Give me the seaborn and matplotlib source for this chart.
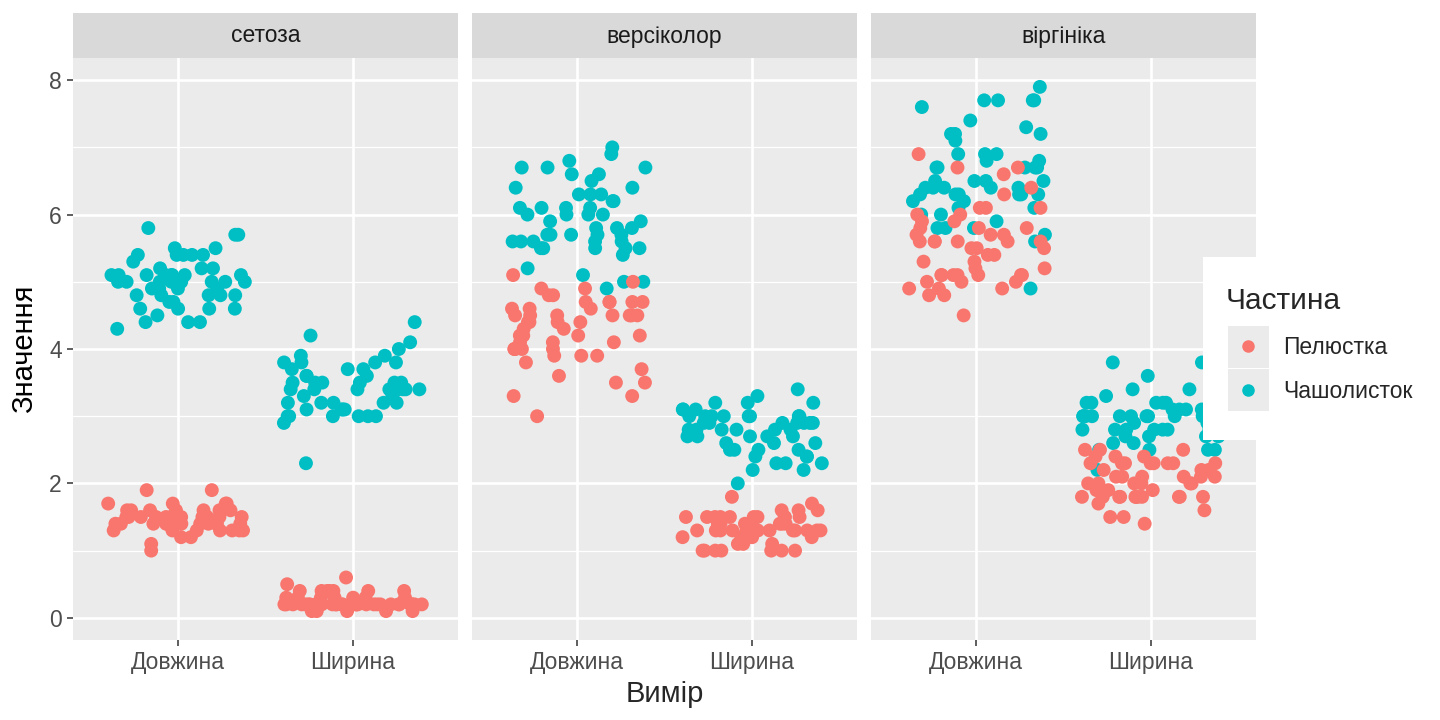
import numpy as np
import pandas as pd
import matplotlib
matplotlib.use("Agg")
import matplotlib.pyplot as plt
from matplotlib.patches import Rectangle
from matplotlib.lines import Line2D
import seaborn as sns

# -------------------------------
# Data: iris, per species (cm)
# -------------------------------
species = ["сетоза", "версіколор", "віргініка"]
measures = ["Довжина", "Ширина"]
parts = ["Пелюстка", "Чашолисток"]

setosa_sepal_len = [5.1, 4.9, 4.7, 4.6, 5.0, 5.4, 4.6, 5.0, 4.4, 4.9, 5.4, 4.8, 4.8, 4.3, 5.8, 5.7, 5.4,
                    5.1, 5.7, 5.1, 5.4, 5.1, 4.6, 5.1, 4.8, 5.0, 5.0, 5.2, 5.2, 4.7, 4.8, 5.4, 5.2, 5.5,
                    4.9, 5.0, 5.5, 4.9, 4.4, 5.1, 5.0, 4.5, 4.4, 5.0, 5.1, 4.8, 5.1, 4.6, 5.3, 5.0]
setosa_sepal_wid = [3.5, 3.0, 3.2, 3.1, 3.6, 3.9, 3.4, 3.4, 2.9, 3.1, 3.7, 3.4, 3.0, 3.0, 4.0, 4.4, 3.9,
                    3.5, 3.8, 3.8, 3.4, 3.7, 3.6, 3.3, 3.4, 3.0, 3.4, 3.5, 3.4, 3.2, 3.1, 3.4, 4.1, 4.2,
                    3.1, 3.2, 3.5, 3.6, 3.0, 3.4, 3.5, 2.3, 3.2, 3.5, 3.8, 3.0, 3.8, 3.2, 3.7, 3.3]
setosa_petal_len = [1.4, 1.4, 1.3, 1.5, 1.4, 1.7, 1.4, 1.5, 1.4, 1.5, 1.5, 1.6, 1.4, 1.1, 1.2, 1.5, 1.3,
                    1.4, 1.7, 1.5, 1.7, 1.5, 1.0, 1.7, 1.9, 1.6, 1.6, 1.5, 1.4, 1.6, 1.6, 1.5, 1.5, 1.4,
                    1.5, 1.2, 1.3, 1.4, 1.3, 1.5, 1.3, 1.3, 1.3, 1.6, 1.9, 1.4, 1.6, 1.4, 1.5, 1.4]
setosa_petal_wid = [0.2, 0.2, 0.2, 0.2, 0.2, 0.4, 0.3, 0.2, 0.2, 0.1, 0.2, 0.2, 0.1, 0.1, 0.2, 0.4, 0.4,
                    0.3, 0.3, 0.3, 0.2, 0.4, 0.2, 0.5, 0.2, 0.2, 0.4, 0.2, 0.2, 0.2, 0.2, 0.4, 0.1, 0.2,
                    0.2, 0.2, 0.2, 0.1, 0.2, 0.2, 0.3, 0.3, 0.2, 0.6, 0.4, 0.3, 0.2, 0.2, 0.2, 0.2]

versi_sepal_len = [7.0, 6.4, 6.9, 5.5, 6.5, 5.7, 6.3, 4.9, 6.6, 5.2, 5.0, 5.9, 6.0, 6.1, 5.6, 6.7, 5.6,
                   5.8, 6.2, 5.6, 5.9, 6.1, 6.3, 6.1, 6.4, 6.6, 6.8, 6.7, 6.0, 5.7, 5.5, 5.5, 5.8, 6.0,
                   5.4, 6.0, 6.7, 6.3, 5.6, 5.5, 5.5, 6.1, 5.8, 5.0, 5.6, 5.7, 5.7, 6.2, 5.1, 5.7]
versi_sepal_wid = [3.2, 3.2, 3.1, 2.3, 2.8, 2.8, 3.3, 2.4, 2.9, 2.7, 2.0, 3.0, 2.2, 2.9, 2.9, 3.1, 3.0,
                   2.7, 2.2, 2.5, 3.2, 2.8, 2.5, 2.8, 2.9, 3.0, 2.8, 3.0, 2.9, 2.6, 2.4, 2.4, 2.7, 2.7,
                   3.0, 3.4, 3.1, 2.3, 3.0, 2.5, 2.6, 3.0, 2.6, 2.3, 2.7, 3.0, 2.9, 2.9, 2.5, 2.8]
versi_petal_len = [4.7, 4.5, 4.9, 4.0, 4.6, 4.5, 4.7, 3.3, 4.6, 3.9, 3.5, 4.2, 4.0, 4.7, 3.6, 4.4, 4.5,
                   4.1, 4.5, 3.9, 4.8, 4.0, 4.9, 4.7, 4.3, 4.4, 4.8, 5.0, 4.5, 3.5, 3.8, 3.7, 3.9, 5.1,
                   4.5, 4.5, 4.7, 4.4, 4.1, 4.0, 4.4, 4.6, 4.0, 3.3, 4.2, 4.2, 4.2, 4.3, 3.0, 4.1]
versi_petal_wid = [1.4, 1.5, 1.5, 1.3, 1.5, 1.3, 1.6, 1.0, 1.3, 1.4, 1.0, 1.5, 1.0, 1.4, 1.3, 1.4, 1.5,
                   1.0, 1.5, 1.1, 1.8, 1.3, 1.5, 1.2, 1.3, 1.4, 1.4, 1.7, 1.5, 1.0, 1.1, 1.0, 1.2, 1.6,
                   1.5, 1.6, 1.5, 1.3, 1.3, 1.3, 1.2, 1.4, 1.2, 1.0, 1.3, 1.2, 1.3, 1.3, 1.1, 1.3]

virg_sepal_len = [6.3, 5.8, 7.1, 6.3, 6.5, 7.6, 4.9, 7.3, 6.7, 7.2, 6.5, 6.4, 6.8, 5.7, 5.8, 6.4, 6.5,
                  7.7, 7.7, 6.0, 6.9, 5.6, 7.7, 6.3, 6.7, 7.2, 6.2, 6.1, 6.4, 7.2, 7.4, 7.9, 6.4, 6.3,
                  6.1, 7.7, 6.3, 6.4, 6.0, 6.9, 6.7, 6.9, 5.8, 6.8, 6.7, 6.7, 6.3, 6.5, 6.2, 5.9]
virg_sepal_wid = [3.3, 2.7, 3.0, 2.9, 3.0, 3.0, 2.5, 2.9, 2.5, 3.6, 3.2, 2.7, 3.0, 2.5, 2.8, 3.2, 3.0,
                  3.8, 2.6, 2.2, 3.2, 2.8, 2.8, 2.7, 3.3, 3.2, 2.8, 3.0, 2.8, 3.0, 2.8, 3.8, 2.8, 2.8,
                  2.6, 3.0, 3.4, 3.1, 3.0, 3.1, 3.1, 3.1, 2.7, 3.2, 3.3, 3.0, 2.5, 3.0, 3.4, 3.0]
virg_petal_len = [6.0, 5.1, 5.9, 5.6, 5.8, 6.6, 4.5, 6.3, 5.8, 6.1, 5.1, 5.3, 5.5, 5.0, 5.1, 5.3, 5.5,
                  6.7, 6.9, 5.0, 5.7, 4.9, 6.7, 4.9, 5.7, 6.0, 4.8, 4.9, 5.6, 5.8, 6.1, 6.4, 5.6, 5.1,
                  5.6, 6.1, 5.6, 5.5, 4.8, 5.4, 5.6, 5.1, 5.1, 5.9, 5.7, 5.2, 5.0, 5.2, 5.4, 5.1]
virg_petal_wid = [2.5, 1.9, 2.1, 1.8, 2.2, 2.1, 1.7, 1.8, 1.8, 2.5, 2.0, 1.9, 2.1, 2.0, 2.4, 2.3, 1.8,
                  2.2, 2.3, 1.5, 2.3, 2.0, 2.0, 1.8, 2.1, 1.8, 1.8, 1.8, 2.1, 1.6, 1.9, 2.0, 2.2, 1.5,
                  1.4, 2.3, 2.4, 1.8, 1.8, 2.1, 2.4, 2.3, 1.9, 2.3, 2.5, 2.3, 1.9, 2.0, 2.3, 1.8]

# -------------------------------
# Long table
# -------------------------------
columns = {
    "сетоза": {("Чашолисток", "Довжина"): setosa_sepal_len, ("Чашолисток", "Ширина"): setosa_sepal_wid,
               ("Пелюстка", "Довжина"): setosa_petal_len, ("Пелюстка", "Ширина"): setosa_petal_wid},
    "версіколор": {("Чашолисток", "Довжина"): versi_sepal_len, ("Чашолисток", "Ширина"): versi_sepal_wid,
                   ("Пелюстка", "Довжина"): versi_petal_len, ("Пелюстка", "Ширина"): versi_petal_wid},
    "віргініка": {("Чашолисток", "Довжина"): virg_sepal_len, ("Чашолисток", "Ширина"): virg_sepal_wid,
                  ("Пелюстка", "Довжина"): virg_petal_len, ("Пелюстка", "Ширина"): virg_petal_wid},
}
rows = []
for sp, groups in columns.items():
    for (part, meas), vals in groups.items():
        for v in vals:
            rows.append({"Вид": sp, "Частина": part, "Вимір": meas, "Значення": v})
df = pd.DataFrame(rows)

palette = {"Пелюстка": "#F8766D", "Чашолисток": "#00BFC4"}

# -------------------------------
# Plot
# -------------------------------
sns.set_theme(style="white")
plt.rcParams["font.family"] = ["Liberation Sans", "DejaVu Sans"]

np.random.seed(7)
W, H = 1440, 720
fig, axes = plt.subplots(1, 3, figsize=(14.4, 7.2), dpi=100, sharey=True)
fig.subplots_adjust(left=73 / W, right=1256 / W, top=1 - 58 / H, bottom=1 - 640 / H, wspace=0.037)

for i, (ax, sp) in enumerate(zip(axes, species)):
    sub = df[df["Вид"] == sp]
    ax.set_facecolor("#EBEBEB")
    # sepals first, petals on top
    sns.stripplot(data=sub, x="Вимір", y="Значення", hue="Частина", order=measures,
                  hue_order=["Чашолисток", "Пелюстка"], palette=palette, jitter=0.4,
                  size=10, linewidth=0, alpha=1, legend=False, ax=ax, zorder=3)
    ax.set_xlim(-0.6, 1.6)
    ax.set_ylim(-0.33, 8.33)
    ax.set_yticks([0, 2, 4, 6, 8])
    ax.set_yticks([1, 3, 5, 7], minor=True)
    ax.grid(which="major", color="white", linewidth=1.9, zorder=0)
    ax.grid(which="minor", axis="y", color="white", linewidth=0.9, zorder=0)
    ax.set_axisbelow(True)
    for s in ax.spines.values():
        s.set_visible(False)
    ax.tick_params(axis="both", which="major", length=4, width=1.1, color="#333333",
                   labelcolor="#4D4D4D", labelsize=16.5, pad=4, bottom=True, left=(i == 0))
    ax.tick_params(axis="y", which="minor", length=0)
    ax.set_xlabel("")
    ax.set_ylabel("")
    # facet strip
    ax.add_patch(Rectangle((0, 1), 1, 45 / 582, transform=ax.transAxes, facecolor="#D9D9D9",
                           edgecolor="none", clip_on=False))
    ax.text(0.5, 1 + 22 / 582, sp, transform=ax.transAxes, ha="center", va="center",
            fontsize=16.5, color="#1A1A1A")

axes[0].set_ylabel("Значення", fontsize=21, color="black", labelpad=8)
fig.text((73 + 1256) / 2 / W, 1 - 694 / H, "Вимір", ha="center", va="center", fontsize=21)

# -------------------------------
# Legend
# -------------------------------
fig.add_artist(Rectangle((1203 / W, 1 - 440 / H), 237 / W, 183 / H, transform=fig.transFigure,
                         facecolor="white", edgecolor="none", zorder=5))
for yc in (347, 390):
    fig.add_artist(Rectangle((1228 / W, 1 - (yc + 21) / H), 41 / W, 42 / H, transform=fig.transFigure,
                             facecolor="#EBEBEB", edgecolor="none", zorder=6))
handles = [Line2D([], [], marker="o", linestyle="", markersize=8, color=palette[p]) for p in parts]
leg = fig.legend(handles, parts, title="Частина", loc="upper left",
                 bbox_to_anchor=(1216 / W, 1 - 278 / H), frameon=False, fontsize=16.5,
                 title_fontsize=21.5, handlelength=2.0, handletextpad=0.52, labelspacing=0.92,
                 borderaxespad=0)
leg._legend_box.align = "left"
leg.set_zorder(7)

fig.savefig("out.png", dpi=100, facecolor="white")
